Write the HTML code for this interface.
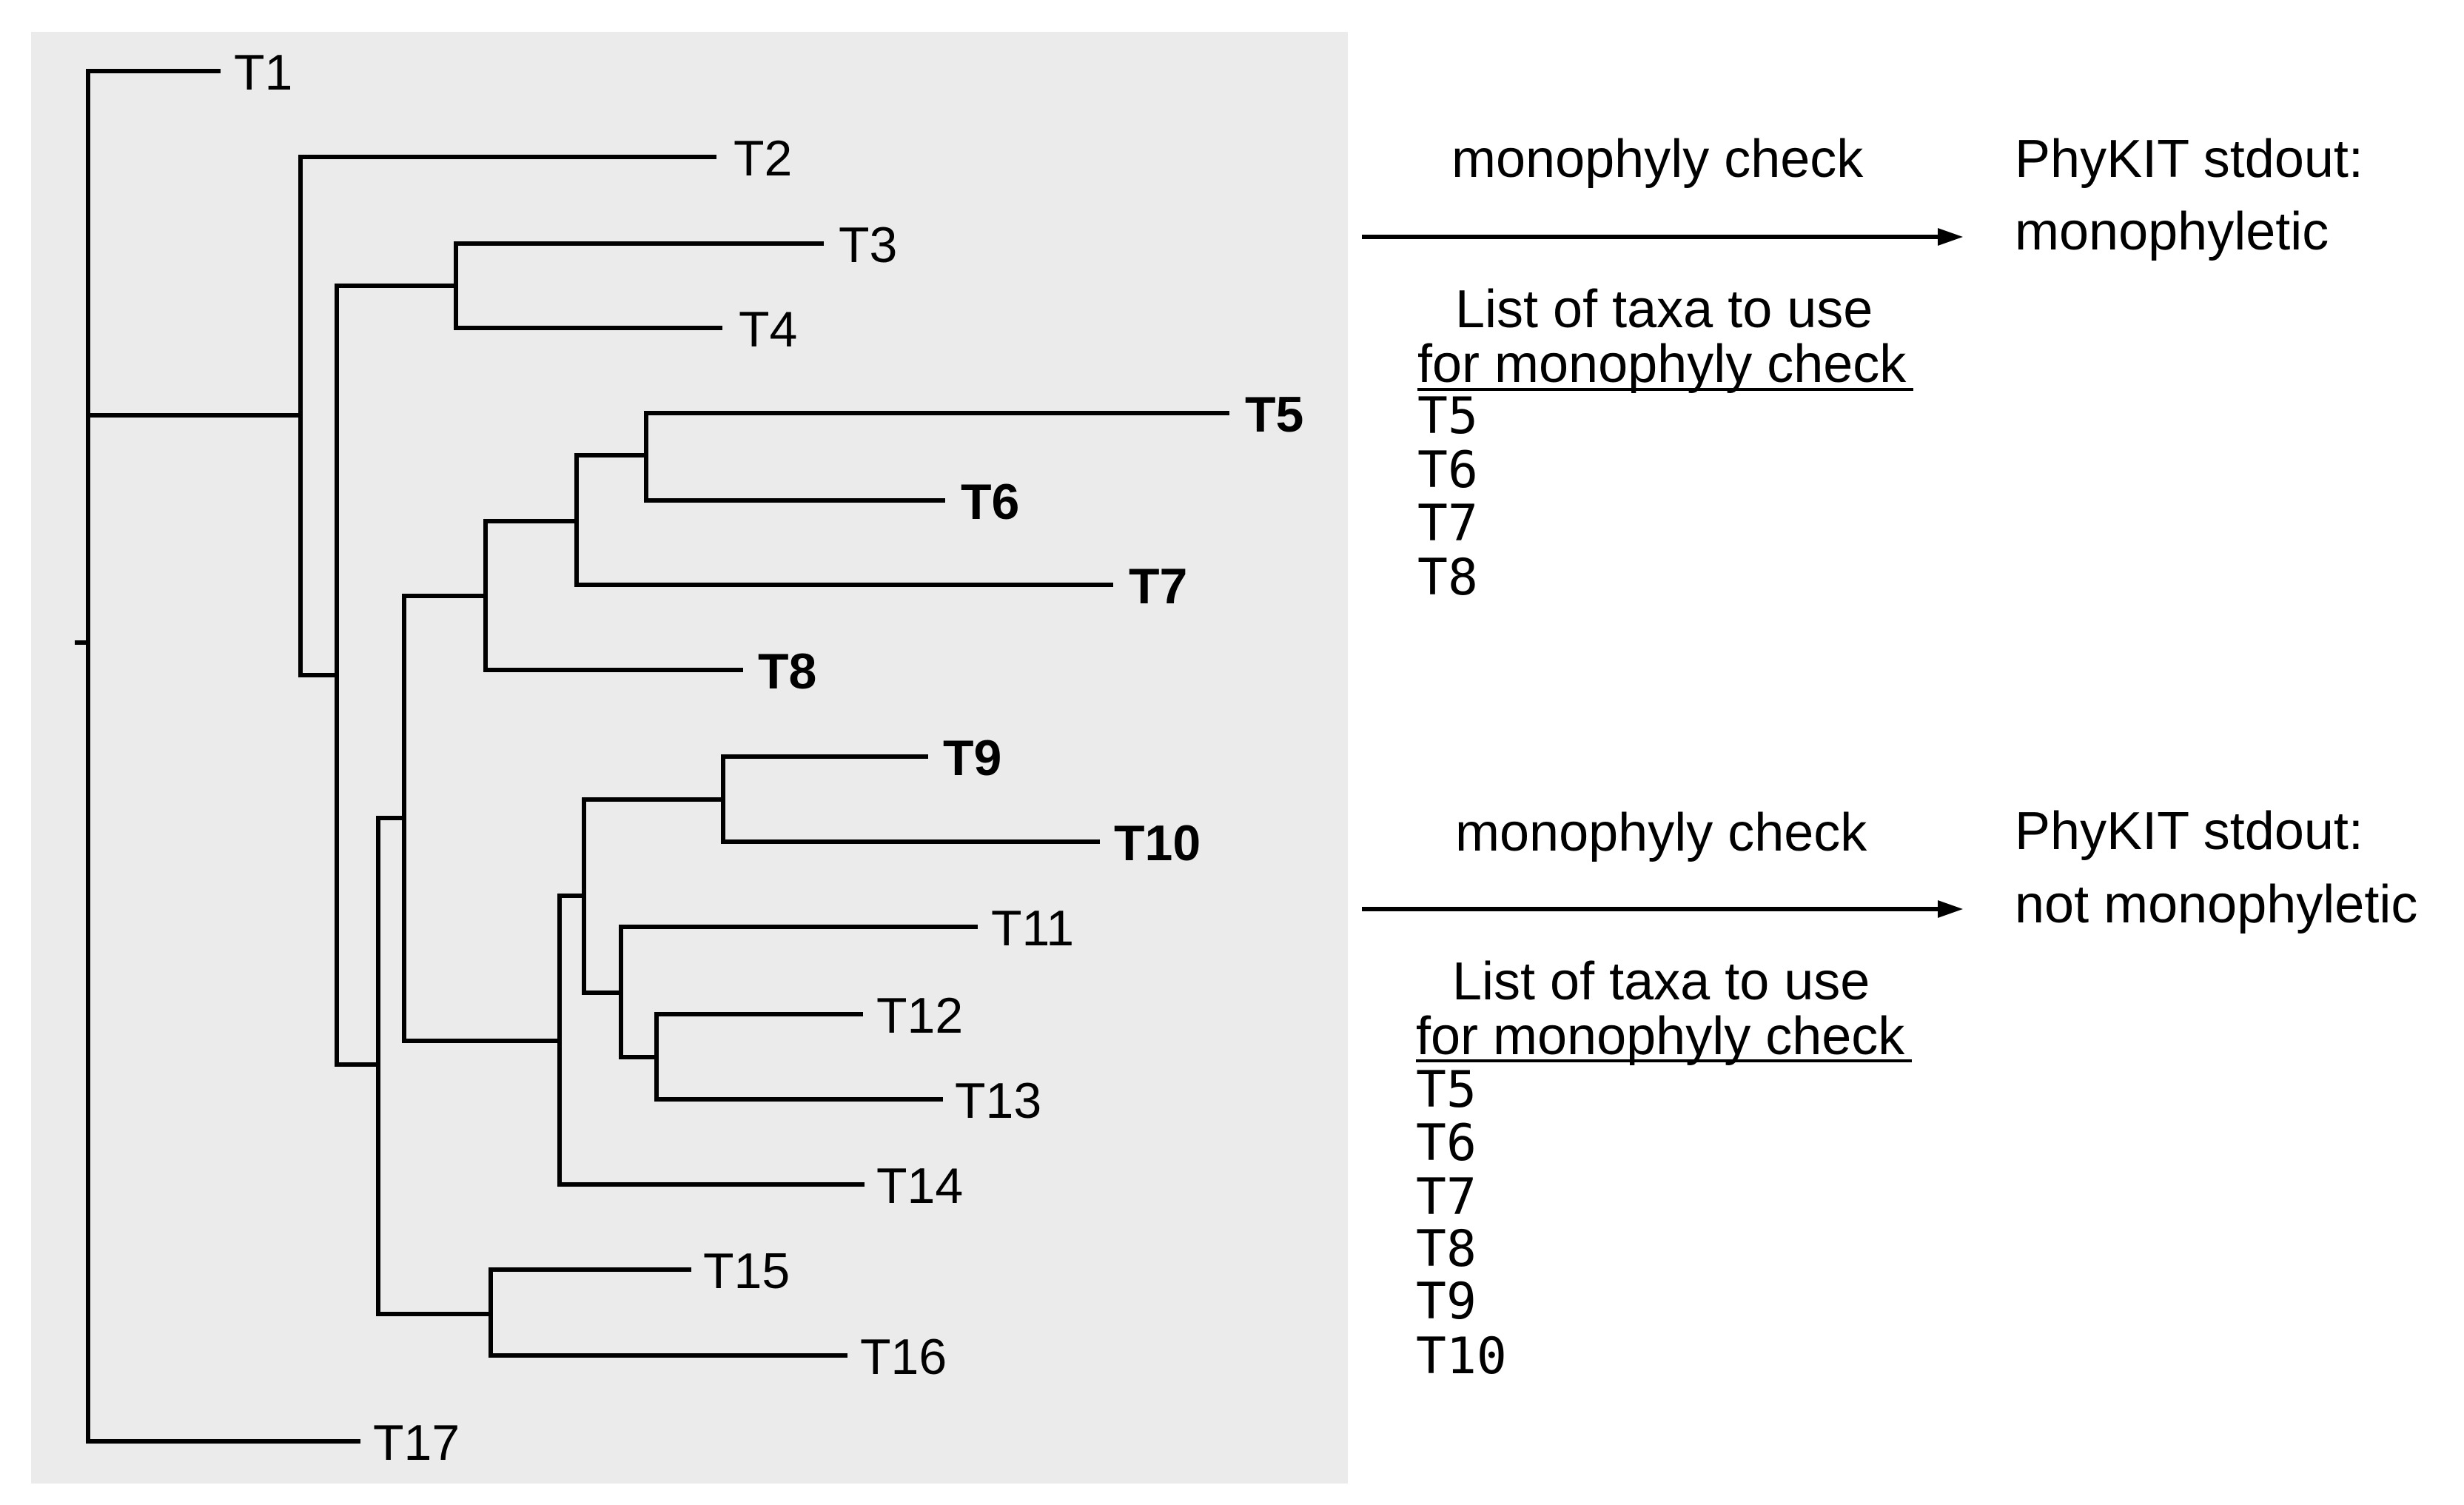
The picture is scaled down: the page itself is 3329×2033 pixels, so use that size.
<!DOCTYPE html>
<html><head><meta charset="utf-8"><style>
html,body{margin:0;padding:0;background:#fff;}
svg{display:block;}
.l{font-family:"Liberation Sans",Arial,sans-serif;font-size:68px;fill:#000;}
.b{font-weight:bold;}
.t{font-family:"Liberation Sans",Arial,sans-serif;font-size:72px;fill:#000;}
.m{font-family:"DejaVu Sans Mono","Liberation Mono",monospace;font-size:68px;fill:#000;}
</style></head><body>
<svg width="3329" height="2033" viewBox="0 0 3329 2033" xmlns="http://www.w3.org/2000/svg">
<rect x="42" y="43" width="1779" height="1961" fill="#ebebeb"/>
<g stroke="#000" stroke-width="6" fill="none" stroke-linecap="square">
<path d="M104 868H119"/>
<path d="M119 96V1947"/>
<path d="M119 96H295"/>
<path d="M119 1947H484"/>
<path d="M119 561H406"/>
<path d="M406 212V912"/>
<path d="M406 212H965"/>
<path d="M406 912H455"/>
<path d="M455 386V1438"/>
<path d="M455 386H616"/>
<path d="M616 329V443"/>
<path d="M616 329H1110"/>
<path d="M616 443H973"/>
<path d="M455 1438H511"/>
<path d="M511 1105V1775"/>
<path d="M511 1105H546"/>
<path d="M546 805V1406"/>
<path d="M546 805H656"/>
<path d="M656 704V905"/>
<path d="M656 704H779"/>
<path d="M779 615V790"/>
<path d="M779 615H873"/>
<path d="M873 558V676"/>
<path d="M873 558H1658"/>
<path d="M873 676H1274"/>
<path d="M779 790H1501"/>
<path d="M656 905H1001"/>
<path d="M546 1406H756"/>
<path d="M756 1210V1600"/>
<path d="M756 1210H789"/>
<path d="M789 1080V1341"/>
<path d="M789 1080H977"/>
<path d="M977 1022V1137"/>
<path d="M977 1022H1251"/>
<path d="M977 1137H1483"/>
<path d="M789 1341H839"/>
<path d="M839 1252V1428"/>
<path d="M839 1252H1318"/>
<path d="M839 1428H887"/>
<path d="M887 1370V1485"/>
<path d="M887 1370H1163"/>
<path d="M887 1485H1271"/>
<path d="M756 1600H1165"/>
<path d="M511 1775H663"/>
<path d="M663 1715V1831"/>
<path d="M663 1715H931"/>
<path d="M663 1831H1142"/>
<path d="M1843 320H2625"/>
<path d="M1843 1228H2625"/>
</g>
<polygon points="2618,308 2652,320 2618,332" fill="#000"/>
<polygon points="2618,1216 2652,1228 2618,1240" fill="#000"/>
<g class="l">
<text x="316" y="121">T1</text>
<text x="991" y="237">T2</text>
<text x="1133" y="354">T3</text>
<text x="998" y="468">T4</text>
<text class="b" x="1682" y="583">T5</text>
<text class="b" x="1298" y="701">T6</text>
<text class="b" x="1525" y="815">T7</text>
<text class="b" x="1024" y="930">T8</text>
<text class="b" x="1274" y="1047">T9</text>
<text class="b" x="1505" y="1162">T10</text>
<text x="1339" y="1277">T11</text>
<text x="1184" y="1395">T12</text>
<text x="1290" y="1510">T13</text>
<text x="1184" y="1625">T14</text>
<text x="950" y="1740">T15</text>
<text x="1162" y="1856">T16</text>
<text x="504" y="1972">T17</text>
</g>
<g class="t">
<text x="1961" y="239">monophyly check</text>
<text x="2722" y="239">PhyKIT stdout:</text>
<text x="2722" y="337">monophyletic</text>
<text x="1966" y="442">List of taxa to use</text>
<text x="1915" y="516">for monophyly check</text>
<text x="1966" y="1149">monophyly check</text>
<text x="2722" y="1147">PhyKIT stdout:</text>
<text x="2722" y="1246">not monophyletic</text>
<text x="1962" y="1350">List of taxa to use</text>
<text x="1913" y="1424">for monophyly check</text>
</g>
<path d="M1915 526H2585M1913 1433H2583" stroke="#000" stroke-width="4"/>
<g class="m">
<text x="1915" y="585">T5</text>
<text x="1915" y="658">T6</text>
<text x="1915" y="730">T7</text>
<text x="1915" y="803">T8</text>
<text x="1913" y="1495">T5</text>
<text x="1913" y="1567">T6</text>
<text x="1913" y="1640">T7</text>
<text x="1913" y="1710">T8</text>
<text x="1913" y="1781">T9</text>
<text x="1913" y="1855">T10</text>
</g>
</svg>
</body></html>
